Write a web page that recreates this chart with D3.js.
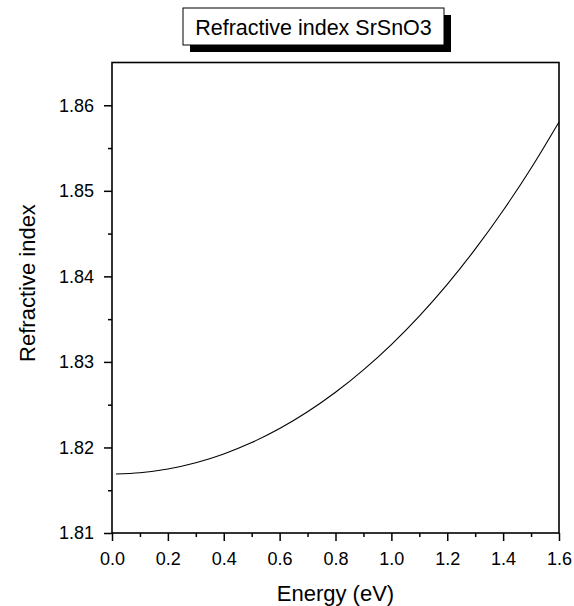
<!DOCTYPE html>
<html>
<head>
<meta charset="utf-8">
<script src="https://cdn.jsdelivr.net/npm/d3@7"></script>
<style>
  html, body { margin: 0; padding: 0; background: #fff; }
  svg { display: block; font-family: "Liberation Sans", Arial, sans-serif; }
</style>
</head>
<body>
<svg id="chart" width="574" height="606"></svg>
<script>
// Refractive index of SrSnO3 versus photon energy
const energy = [0.014, 0.1, 0.2, 0.3, 0.4, 0.5, 0.6, 0.7, 0.8, 0.9, 1.0, 1.1, 1.2, 1.3, 1.4, 1.5, 1.6];
const refractiveIndex = [1.8169, 1.81705, 1.81748, 1.81821, 1.81924, 1.82057, 1.82221, 1.82417, 1.82645,
                         1.82907, 1.83203, 1.83536, 1.83907, 1.84318, 1.84770, 1.85264, 1.85805];
const xTicks = [0.0, 0.2, 0.4, 0.6, 0.8, 1.0, 1.2, 1.4, 1.6];
const yTicks = [1.81, 1.82, 1.83, 1.84, 1.85, 1.86];
const xMinorTicks = [0.1, 0.3, 0.5, 0.7, 0.9, 1.1, 1.3, 1.5];
const yMinorTicks = [1.815, 1.825, 1.835, 1.845, 1.855];
const titleText = "Refractive index SrSnO3";
const xTitle = "Energy (eV)";
const yTitle = "Refractive index";

const svg = d3.select("#chart");
const plotLeft = 112, plotRight = 559, plotTop = 62.5, plotBottom = 533;

const x = d3.scaleLinear().domain([0, 1.6]).range([plotLeft, plotRight]);
const y = d3.scaleLinear().domain([1.81, 1.865]).range([plotBottom, plotTop]);

// Plot frame
svg.append("rect")
  .attr("x", plotLeft).attr("y", plotTop)
  .attr("width", plotRight - plotLeft).attr("height", plotBottom - plotTop)
  .attr("fill", "none").attr("stroke", "#000").attr("stroke-width", 1.6);

// Bottom axis: major ticks with labels, minor ticks without
const xAxis = svg.append("g").attr("transform", `translate(0,${plotBottom})`);
xAxis.call(d3.axisBottom(x).tickValues(xTicks).tickSize(8).tickPadding(11)
  .tickFormat(d3.format(".1f")));
xAxis.append("g").call(d3.axisBottom(x).tickValues(xMinorTicks).tickSize(4).tickFormat(""));

// Left axis
const yAxis = svg.append("g").attr("transform", `translate(${plotLeft},0)`);
yAxis.call(d3.axisLeft(y).tickValues(yTicks).tickSize(8).tickPadding(10)
  .tickFormat(d3.format(".2f")));
yAxis.append("g").call(d3.axisLeft(y).tickValues(yMinorTicks).tickSize(4).tickFormat(""));

svg.selectAll(".domain").remove();
svg.selectAll(".tick line").attr("stroke", "#000").attr("stroke-width", 1.5);
svg.selectAll(".tick text")
  .attr("fill", "#000")
  .style("font-size", "18px")
  .style("font-family", "'Liberation Sans', Arial, sans-serif");

// Curve
const line = d3.line()
  .x((d, i) => x(energy[i]))
  .y(d => y(d))
  .curve(d3.curveMonotoneX);
svg.append("path")
  .datum(refractiveIndex)
  .attr("d", line)
  .attr("fill", "none")
  .attr("stroke", "#000")
  .attr("stroke-width", 1.1);

// Axis titles
svg.append("text")
  .attr("x", (plotLeft + plotRight) / 2).attr("y", 601)
  .attr("text-anchor", "middle")
  .style("font-size", "22px")
  .text(xTitle);

svg.append("text")
  .attr("transform", "translate(35,283) rotate(-90)")
  .attr("text-anchor", "middle")
  .style("font-size", "22px")
  .text(yTitle);

// Title box with drop shadow
const bx = 183, by = 8, bw = 261, bh = 37;
svg.append("rect")
  .attr("x", bx + 7).attr("y", by + 7).attr("width", bw).attr("height", bh)
  .attr("fill", "#000");
svg.append("rect")
  .attr("x", bx).attr("y", by).attr("width", bw).attr("height", bh)
  .attr("fill", "#fff").attr("stroke", "#000").attr("stroke-width", 1);
svg.append("text")
  .attr("x", bx + bw / 2).attr("y", 35)
  .attr("text-anchor", "middle")
  .style("font-size", "21.5px")
  .text(titleText);
</script>
</body>
</html>
